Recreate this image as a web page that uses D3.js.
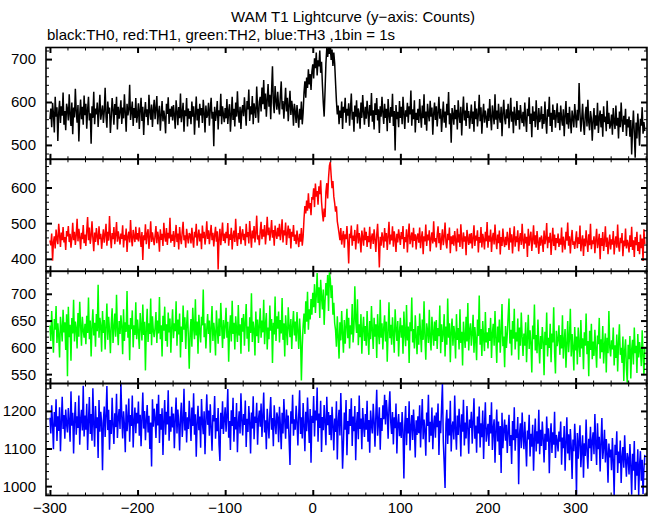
<!DOCTYPE html>
<html><head><meta charset="utf-8">
<script src="https://cdn.jsdelivr.net/npm/d3@7"></script>
<style>body{margin:0;background:#fff}svg{display:block}text{font-family:"Liberation Sans",Arial,Helvetica,sans-serif;fill:#000}</style>
</head><body><svg id="c" width="652" height="515"></svg>
<script>
const titleText = "WAM T1 Lightcurve (y\u2212axis: Counts)";
const subtitleText = "black:TH0, red:TH1, green:TH2, blue:TH3 ,1bin = 1s";
const startTime = -300, binSize = 1;
const xMajorTicks = [-300,-200,-100,0,100,200,300];
const xMinorStep = 20;

const th0 = [
560,585,541,598,572,529,612,566,588,509,575,603,551,590,568,622,547,579,534,596,
583,557,618,570,544,599,525,587,564,631,578,552,593,508,571,606,560,589,547,615,
569,596,538,582,612,557,574,503,590,563,624,548,585,571,599,542,580,617,559,576,
592,551,578,633,566,540,601,573,587,528,564,609,582,547,595,570,612,536,589,561,
578,604,549,587,562,618,575,531,596,569,583,640,558,577,601,544,586,563,609,552,
571,597,537,582,610,556,589,523,574,600,565,583,546,617,578,559,594,542,581,605,
560,585,614,548,576,591,533,569,602,555,580,563,527,596,572,611,549,584,566,590,
557,593,570,538,604,579,546,588,562,620,553,574,598,531,581,567,609,543,585,561,
579,548,601,566,590,524,572,613,557,584,540,596,569,586,551,605,575,529,592,563,
570,598,545,583,610,561,577,497,589,556,574,602,536,581,567,619,548,590,571,553,
586,562,607,549,578,595,531,570,612,558,584,543,599,566,625,574,552,589,537,580,
593,567,611,578,545,602,583,629,556,590,571,614,548,597,580,563,636,585,552,601,
612,578,634,595,651,583,620,566,605,642,589,617,560,628,683,598,574,637,603,582,
624,590,571,615,648,583,602,561,597,633,578,610,555,592,626,570,603,584,545,596,
578,551,593,566,540,584,559,601,548,575,622,648,610,657,633,676,641,665,628,671,
688,655,702,679,715,662,697,683,720,668,694,640,598,566,625,690,726,705,727,712,
727,698,722,684,715,690,645,602,571,592,548,580,563,601,537,589,575,610,552,584,
568,597,545,583,620,559,577,531,592,566,604,550,585,572,538,599,563,616,578,547,
589,561,603,575,542,593,568,621,554,581,536,597,570,609,557,583,528,590,566,612,
575,549,596,563,584,532,607,570,551,588,566,619,544,579,487,593,560,577,541,602,
563,589,548,612,574,537,581,566,598,552,590,571,627,545,583,560,604,529,575,558,
584,551,607,569,540,592,562,618,547,578,533,596,571,555,603,566,587,524,573,599,
558,590,543,575,612,561,584,530,567,601,552,578,540,596,569,623,548,574,505,586,
571,547,593,560,582,536,604,568,551,589,522,575,613,557,580,544,598,563,579,538,
566,594,549,578,531,602,560,585,543,571,617,555,588,526,569,596,552,580,564,540,
585,556,607,563,534,592,571,548,618,559,580,537,596,566,552,589,520,574,605,561,
548,583,562,596,539,571,610,554,578,527,589,565,545,602,558,581,536,593,567,551,
577,543,599,561,530,584,567,611,549,573,518,590,556,578,541,604,562,535,586,553,
563,590,538,572,549,601,557,526,583,566,612,544,575,530,594,559,581,540,568,597,
551,576,534,592,561,545,583,520,569,602,548,574,538,589,556,527,580,563,541,595,
566,540,582,557,644,575,531,561,596,548,523,570,589,543,605,553,534,579,562,510,
557,586,536,569,545,598,528,563,580,541,572,519,590,553,566,532,603,549,575,538,
548,571,524,586,553,537,592,545,563,515,578,541,599,556,530,568,547,584,521,560,
541,566,519,558,478,537,580,528,470,552,515,573,539,498,561,545,588,526,553,532];

const th1 = [
452,438,471,395,447,463,429,482,455,441,498,467,433,474,452,489,446,461,425,478,
463,492,447,470,431,458,501,452,476,439,466,512,449,484,461,427,473,455,495,444,
468,436,479,517,452,488,442,463,505,458,421,474,447,486,462,438,491,455,470,428,
457,483,445,469,498,437,476,451,520,464,430,472,455,489,441,466,503,448,477,459,
440,471,456,494,432,467,452,485,419,463,476,446,509,458,435,481,462,447,490,454,
472,449,488,461,433,475,397,466,452,497,441,469,483,428,460,505,447,474,456,438,
465,492,444,476,459,420,483,453,470,436,501,462,448,486,439,473,457,515,445,468,
450,478,433,463,495,447,471,426,489,458,441,476,504,452,466,431,484,461,443,472,
468,443,487,455,431,476,460,498,437,464,482,449,471,427,493,458,476,440,463,505,
456,480,441,469,495,452,473,435,466,490,448,477,370,459,484,438,467,502,450,471,
444,476,458,500,437,469,453,487,426,465,479,447,512,460,436,472,455,491,441,467,
483,452,470,437,498,461,475,443,506,468,431,479,457,492,446,471,521,454,466,438,
477,504,455,483,462,495,440,471,518,466,488,451,476,509,459,481,437,493,470,456,
487,463,498,452,475,511,446,480,466,502,439,471,493,458,484,429,476,462,495,450,
468,441,479,455,433,470,448,486,437,462,512,548,527,563,535,584,541,556,522,573,
566,598,545,611,574,590,552,603,581,620,560,528,505,541,517,588,612,569,627,661,
672,633,598,618,575,556,532,547,505,489,471,452,486,440,463,478,431,469,455,492,
446,387,470,458,493,437,465,450,481,426,462,497,443,472,455,418,479,460,437,488,
452,476,433,464,447,490,428,459,471,442,483,455,419,467,498,445,376,462,437,474,
458,431,486,449,472,425,463,504,440,468,452,491,434,477,456,419,470,446,483,461,
439,475,455,492,428,461,447,483,418,466,499,441,458,474,432,487,450,469,426,462,
471,445,488,430,459,477,413,463,449,496,436,468,452,480,421,457,474,443,505,448,
458,432,467,491,444,472,425,455,483,438,461,502,447,429,470,452,488,416,463,441,
466,437,478,452,421,485,446,469,433,497,455,428,474,448,463,410,481,457,439,470,
443,472,429,458,494,436,465,451,480,418,461,445,489,432,470,454,426,476,449,503,
431,465,448,482,419,457,473,440,496,453,427,468,444,479,412,461,436,485,450,433,
462,438,476,452,425,487,446,469,415,458,491,434,463,447,480,421,455,472,439,498,
450,428,471,443,462,405,484,437,459,476,422,453,494,440,466,431,478,447,414,460,
437,465,448,419,479,441,456,500,430,462,445,473,411,452,487,436,468,424,458,444,
471,433,457,440,488,418,462,445,426,476,451,502,437,463,415,455,481,439,449,428,
453,477,430,460,442,493,421,448,466,408,457,435,480,446,419,469,438,498,427,452,
441,463,416,452,484,430,447,470,399,458,436,475,422,449,491,433,460,413,445,468,
426,455,440,478,412,447,463,431,496,438,420,459,444,472,407,451,435,485,429,453,
442,418,466,433,490,425,452,405,461,438,476,422,447,413,468,430,457,394,483,441];

const th2 = [
641,612,668,625,590,653,633,677,608,645,622,581,657,636,611,670,628,647,595,662,
546,676,619,642,575,655,626,689,611,648,636,598,664,620,685,641,603,657,632,618,
644,606,659,627,693,615,650,583,638,671,622,646,601,662,630,717,618,655,640,592,
668,627,651,596,639,682,614,657,632,589,645,673,608,636,663,620,698,633,604,649,
625,660,638,587,671,612,647,629,705,618,642,576,655,634,669,600,641,623,684,615,
652,628,597,664,639,613,680,623,648,557,636,672,610,645,625,691,604,658,631,619,
637,666,608,650,626,694,615,641,583,659,631,676,612,643,601,665,628,654,590,638,
671,617,645,630,686,603,652,624,663,581,639,610,678,633,656,597,642,669,618,560,
627,653,601,674,636,615,690,622,648,588,661,630,609,657,641,708,619,645,598,634,
662,625,650,590,638,677,612,646,628,585,669,635,607,654,621,683,640,599,651,616,
639,674,618,648,573,631,660,611,687,625,646,596,658,633,610,679,622,643,588,655,
629,662,603,645,681,616,639,592,656,627,701,610,648,634,585,667,621,652,608,640,
673,618,650,628,689,606,642,664,596,637,615,678,631,653,571,646,624,695,612,658,
635,667,609,651,626,692,614,645,583,660,631,604,675,638,619,653,597,641,668,622,
648,611,666,629,597,654,620,538,602,641,663,625,686,648,704,633,671,652,690,661,
702,675,718,664,697,739,683,712,655,726,694,671,708,642,686,720,697,735,668,740,
728,692,716,661,683,645,632,601,658,620,579,647,613,668,625,590,651,607,639,672,
617,655,598,641,624,681,609,636,714,650,627,690,604,643,619,662,588,634,657,612,
640,603,668,622,586,649,615,677,631,597,655,620,643,580,662,628,606,689,618,645,
596,637,660,611,648,573,629,684,617,642,605,656,624,590,671,635,612,649,583,630,
655,618,641,588,667,625,602,679,613,639,571,647,630,693,609,634,598,660,621,587,
640,605,663,627,591,652,614,686,620,577,645,631,608,670,616,594,657,629,603,648,
612,651,597,636,621,678,589,643,610,627,662,583,639,605,691,618,645,572,631,654,
603,640,625,579,662,614,636,596,671,608,629,566,648,620,599,657,611,683,594,632,
645,603,627,661,590,638,614,576,652,621,697,605,634,584,649,617,593,666,609,628,
598,636,612,655,580,626,644,603,668,617,571,639,609,652,590,627,681,602,620,563,
640,599,624,658,691,607,633,585,649,616,672,596,628,611,654,577,637,603,665,620,
584,626,603,647,572,618,661,597,632,608,553,641,615,680,594,623,589,652,606,570,
621,597,638,612,548,629,604,665,583,618,599,644,572,626,609,675,593,551,631,602,
615,641,586,623,598,660,579,612,634,562,606,649,591,618,672,583,625,600,557,638,
594,620,568,637,605,582,651,598,617,559,628,603,663,587,612,546,631,595,644,578,
611,584,633,597,562,622,606,655,579,615,591,640,570,603,626,553,618,589,668,600,
583,613,596,637,566,604,580,624,555,608,643,586,599,571,620,537,593,615,560,534,
605,578,621,542,596,614,568,637,589,603,552,625,581,610,594,565,632,587,548,601];

const th3 = [
1182,1140,1215,1163,1098,1197,1158,1231,1120,1186,1147,1210,1093,1171,1238,1152,1189,1126,1204,1165,
1143,1208,1170,1118,1252,1161,1195,1087,1178,1224,1137,1186,1155,1241,1110,1177,1203,1148,1267,1132,
1188,1150,1219,1096,1173,1237,1139,1192,1121,1260,1166,1105,1213,1154,1183,1075,1229,1145,1198,1168,
1042,1174,1212,1131,1187,1266,1149,1203,1097,1176,1139,1235,1161,1112,1194,1157,1246,1128,1181,1205,
1152,1273,1185,1127,1199,1164,1090,1217,1146,1178,1233,1118,1189,1160,1241,1103,1172,1209,1141,1195,
1167,1225,1134,1190,1106,1181,1249,1153,1200,1122,1175,1216,1143,1187,1099,1169,1052,1231,1158,1206,
1180,1128,1219,1161,1243,1115,1192,1150,1207,1083,1173,1229,1137,1198,1164,1255,1121,1186,1145,1211,
1156,1193,1101,1178,1236,1140,1204,1167,1095,1185,1222,1131,1170,1259,1148,1197,1116,1183,1152,1227,
1174,1120,1209,1160,1247,1137,1191,1078,1168,1214,1149,1185,1102,1232,1171,1138,1199,1085,1176,1244,
1163,1201,1134,1218,1157,1094,1189,1172,1240,1126,1181,1146,1208,1111,1067,1195,1152,1226,1139,1177,
1210,1145,1187,1258,1129,1173,1096,1202,1160,1235,1118,1184,1151,1221,1090,1167,1199,1140,1247,1176,
1135,1192,1163,1228,1104,1179,1144,1213,1171,1087,1196,1153,1239,1125,1185,1168,1222,1110,1177,1201,
1158,1220,1131,1186,1249,1143,1175,1098,1206,1164,1127,1193,1237,1150,1181,1106,1215,1169,1138,1196,
1183,1117,1211,1162,1098,1195,1140,1232,1173,1126,1204,1153,1188,1121,1056,1199,1166,1243,1134,1178,
1150,1214,1172,1108,1190,1255,1139,1183,1127,1221,1161,1093,1198,1146,1236,1170,1115,1205,1062,1187,
1168,1240,1132,1201,1175,1262,1118,1193,1155,1227,1091,1184,1149,1216,1170,1109,1238,1162,1197,1136,
1189,1122,1211,1163,1095,1180,1144,1226,1071,1171,1203,1135,1248,1158,1046,1112,1196,1150,1229,1082,
1173,1138,1205,1160,1234,1107,1185,1146,1213,1069,1166,1197,1125,1241,1152,1180,1098,1208,1161,1131,
1192,1150,1227,1118,1176,1089,1201,1163,1140,1219,1172,1105,1188,1256,1134,1169,1210,1097,1181,1147,
1215,1178,1243,1164,1229,1195,1126,1208,1252,1170,1139,1197,1111,1183,1154,1220,1087,1165,1192,1133,
1170,1128,1197,1146,1020,1162,1213,1109,1181,1140,1226,1095,1158,1189,1123,1204,1152,1076,1175,1136,
1186,1141,1215,1103,1168,1232,1125,1177,1150,1081,1196,1160,1243,1117,1171,1134,1209,1098,1163,1188,
1129,1196,1157,1220,1083,1174,1141,1209,1272,1118,1060,995,1166,1203,1112,1180,1135,1227,1092,1158,
1172,1124,1241,1150,1097,1188,1136,1206,1162,1079,1191,1145,1230,1108,1169,1127,1213,1154,1086,1177,
1155,1198,1113,1170,1234,1126,1161,1089,1185,1140,1212,1103,1167,1130,1201,1072,1159,1223,1118,1146,
1166,1107,1189,1140,1223,1096,1153,1178,1062,1145,1204,1119,1172,1083,1160,1035,1195,1101,1148,1177,
1121,1163,1088,1145,1190,1107,1136,1059,1173,1122,1210,1094,1151,1128,1184,1005,1139,1167,1101,1196,
1133,1098,1171,1116,1052,1148,1124,1190,1079,1139,1105,1163,1041,1127,1180,1092,1146,1113,1203,1085,
1150,1107,1172,1126,1063,1139,1096,1185,1118,1154,1034,1130,1167,1088,1143,1110,1198,1075,1136,1121,
1092,1145,1118,1172,1057,1129,1101,1160,1041,1115,1183,1087,1138,1069,1152,1106,1019,1124,1093,1166,
1108,978,1141,1073,1119,1162,1050,1098,1135,1022,1114,1080,1177,1093,1046,1126,1101,1158,1067,1120,
1143,1085,1192,1110,1056,1167,1098,1131,1039,1117,1181,1072,1104,1150,1063,1125,1089,1009,1113,1076,
1097,1042,1128,1069,976,1110,1083,1146,1035,1092,1061,1121,1008,1077,1104,1049,1135,1071,1025,1088,
1073,1031,1112,1054,977,1086,1041,1120,990,1065,1028,1098,976,1057,1093,1014,1070,979,1046,1083];

const panelSeries = [th0, th1, th2, th3];
const panelColors = ["#000000", "#ff0000", "#00ff00", "#0000ff"];
const panelDomains = [[466.5, 727], [365, 679], [532.5, 742], [975, 1273]];
const panelMajorTicks = [[500,600,700], [400,500,600], [550,600,650,700], [1000,1100,1200]];
const panelMinorSteps = [20, 20, 10, 20];

[th0, th1, th2, th3].forEach((a, i) => { if (a.length !== 680) throw new Error("series " + i + " length " + a.length); });

const svg = d3.select("#c");
const plotLeft = 46, plotRight = 647;
const edges = [47.5, 159.3, 271.3, 383.5, 495.5];
const xDomain = [-304.5, 381.5];
const x = d3.scaleLinear().domain(xDomain).range([plotLeft, plotRight]);
const times = th0.map((_, i) => startTime + i * binSize);
const fontSize = 15;

svg.append("text").attr("x", 353).attr("y", 22).attr("text-anchor", "middle")
  .style("font-size", fontSize + "px").text(titleText);
svg.append("text").attr("x", 47).attr("y", 40)
  .style("font-size", fontSize + "px").text(subtitleText);

const xMinorTicks = d3.range(Math.ceil(xDomain[0] / xMinorStep) * xMinorStep, xDomain[1], xMinorStep)
  .filter(v => xMajorTicks.indexOf(v) < 0);

function drawAxis(gen, tr, values, size, width) {
  const g = svg.append("g").attr("transform", tr)
    .call(gen.tickValues(values).tickSize(size).tickFormat(""));
  g.select(".domain").remove();
  g.selectAll("line").attr("stroke", "#000").attr("stroke-width", width);
  g.selectAll("text").remove();
}

panelSeries.forEach((vals, i) => {
  const top = edges[i], bot = edges[i + 1];
  const y = d3.scaleLinear().domain(panelDomains[i]).range([bot, top]);
  svg.append("clipPath").attr("id", "clip" + i).append("rect")
    .attr("x", plotLeft).attr("y", top).attr("width", plotRight - plotLeft).attr("height", bot - top);
  svg.append("path").datum(vals)
    .attr("clip-path", "url(#clip" + i + ")")
    .attr("fill", "none").attr("stroke", panelColors[i]).attr("stroke-width", 1.5)
    .attr("stroke-linejoin", "miter").attr("stroke-miterlimit", 1)
    .attr("d", d3.line().x((d, j) => x(times[j])).y(d => y(d)));

  drawAxis(d3.axisBottom(x), `translate(0,${bot})`, xMinorTicks, -3, 1);
  drawAxis(d3.axisBottom(x), `translate(0,${bot})`, xMajorTicks, -5.5, 2);
  drawAxis(d3.axisTop(x), `translate(0,${top})`, xMinorTicks, -3, 1);
  drawAxis(d3.axisTop(x), `translate(0,${top})`, xMajorTicks, -5.5, 2);

  const st = panelMinorSteps[i];
  const dom = panelDomains[i];
  const yMinor = d3.range(Math.ceil(dom[0] / st) * st, dom[1], st).filter(v => panelMajorTicks[i].indexOf(v) < 0);
  drawAxis(d3.axisLeft(y), `translate(${plotLeft},0)`, yMinor, -3, 1);
  drawAxis(d3.axisLeft(y), `translate(${plotLeft},0)`, panelMajorTicks[i], -6, 2);
  drawAxis(d3.axisRight(y), `translate(${plotRight},0)`, yMinor, -3, 1);
  drawAxis(d3.axisRight(y), `translate(${plotRight},0)`, panelMajorTicks[i], -6, 2);

  svg.append("g").selectAll("text").data(panelMajorTicks[i]).join("text")
    .attr("x", 36).attr("y", d => y(d)).attr("dy", "0.36em")
    .attr("text-anchor", "end").style("font-size", fontSize + "px").text(d => d);

  svg.append("rect").attr("x", plotLeft).attr("y", top)
    .attr("width", plotRight - plotLeft).attr("height", bot - top)
    .attr("fill", "none").attr("stroke", "#000").attr("stroke-width", 1.6);
});

svg.append("g").selectAll("text").data(xMajorTicks).join("text")
  .attr("x", d => x(d)).attr("y", 513).attr("text-anchor", "middle")
  .style("font-size", fontSize + "px").text(d => d3.format("d")(d));
</script></body></html>
